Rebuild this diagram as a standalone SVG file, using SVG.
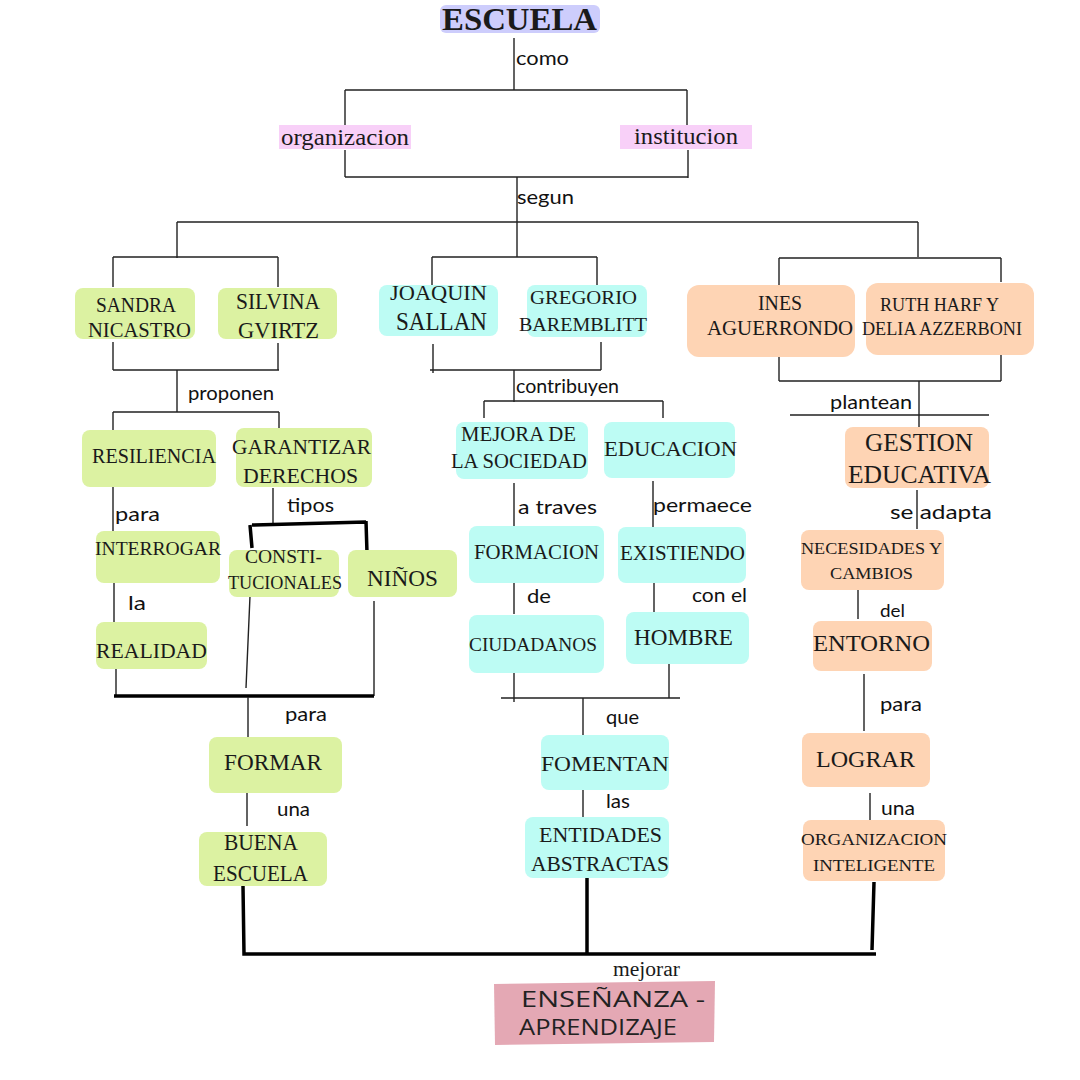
<svg xmlns="http://www.w3.org/2000/svg" width="1080" height="1080" viewBox="0 0 1080 1080">
<style>
.bg{fill:#ffffff}
.g{fill:#dcf2a2}
.c{fill:#bdfcf4}
.o{fill:#fed4b4}
.t{font-family:"Liberation Serif","DejaVu Serif",serif;fill:#1a1a1a;text-anchor:middle}
.l{font-family:Lato,"Noto Sans","DejaVu Sans",sans-serif;fill:#111;font-size:20px}
.s{font-family:"Open Sans","Noto Sans",sans-serif;font-size:22px;fill:#222}
.ln{stroke:#222;stroke-width:1.4;fill:none}
.tk{stroke:#000;stroke-width:3.5;fill:none}
</style>
<rect class="bg" x="0" y="0" width="1080" height="1080"/>

<g id="connectors">
<path class="ln" d="M514 38V90M345 90H687M345 90V125M687 90V125"/>
<path class="ln" d="M345 150V177M688 150V178M345 177H688M517 177V222M177 222H918M177 222V258M517 222V257M918 222V257"/>
<path class="ln" d="M113 257H278M113 257V287M278 257V287"/>
<path class="ln" d="M113 342V370M278 343V370M113 370H279M177 370V412M113 412H279M113 412V430M279 412V430"/>
<path class="ln" d="M113 487V531M114 577V626M116 663V696"/>
<path class="ln" d="M273 488V523"/>
<path class="tk" d="M252 525L366 522M250 525L252 548M366 521L367 553"/>
<path class="ln" d="M250 596L246 688M374 601V696"/>
<path class="tk" d="M114 696H374"/>
<path class="ln" d="M248 697V738M247 782V826"/>
<path class="tk" d="M243 886L244 954H876M587 877V954M874 882L872 950"/>
<path class="ln" d="M432 257H597M432 257V285M597 257V285"/>
<path class="ln" d="M433 344V373M601 342V370M430 370H601M514 370V402M484 401H663M484 401V418M663 401V418"/>
<path class="ln" d="M514 483V526M653 481V527M514 580V614M654 577V612M514 671V702M669 663V698M501 698H680M583 698V735M583 782V818"/>
<path class="ln" d="M779 258H1001M779 258V285M1001 258V282M779 356V381M1001 352V381M779 381H1001M919 381V427M790 415H989"/>
<path class="ln" d="M917 490V529M858 582V619M864 674V731M870 793V830"/>
</g>

<g id="labels">
<text class="l" x="516" y="65" textLength="53" lengthAdjust="spacingAndGlyphs">como</text>
<text class="l" x="517" y="204" textLength="57" lengthAdjust="spacingAndGlyphs">segun</text>
<text class="l" x="188" y="400" textLength="86" lengthAdjust="spacingAndGlyphs">proponen</text>
<text class="l" x="115" y="521" textLength="45" lengthAdjust="spacingAndGlyphs">para</text>
<text class="l" x="128" y="610" textLength="18" lengthAdjust="spacingAndGlyphs">la</text>
<text class="l" x="287" y="512" textLength="47" lengthAdjust="spacingAndGlyphs">tipos</text>
<text class="l" x="285" y="721" textLength="42" lengthAdjust="spacingAndGlyphs">para</text>
<text class="l" x="277" y="816" textLength="33" lengthAdjust="spacingAndGlyphs">una</text>
<text class="l" x="516" y="393" textLength="103" lengthAdjust="spacingAndGlyphs">contribuyen</text>
<text class="l" x="518" y="514" textLength="79" lengthAdjust="spacingAndGlyphs">a traves</text>
<text class="l" x="653" y="512" textLength="99" lengthAdjust="spacingAndGlyphs">permaece</text>
<text class="l" x="527" y="603" textLength="24" lengthAdjust="spacingAndGlyphs">de</text>
<text class="l" x="692" y="602" textLength="55" lengthAdjust="spacingAndGlyphs">con el</text>
<text class="l" x="606" y="724" textLength="33" lengthAdjust="spacingAndGlyphs">que</text>
<text class="l" x="606" y="808" textLength="24" lengthAdjust="spacingAndGlyphs">las</text>
<text class="l" x="830" y="409" textLength="82" lengthAdjust="spacingAndGlyphs">plantean</text>
<text class="l" x="890" y="519" textLength="102" lengthAdjust="spacingAndGlyphs">se adapta</text>
<text class="l" x="880" y="617" textLength="25" lengthAdjust="spacingAndGlyphs" style="font-size:18px">del</text>
<text class="l" x="880" y="711" textLength="42" lengthAdjust="spacingAndGlyphs">para</text>
<text class="l" x="881" y="815" textLength="34" lengthAdjust="spacingAndGlyphs">una</text>
<text class="t" x="646.5" y="976" textLength="67" lengthAdjust="spacingAndGlyphs" style="font-size:20px">mejorar</text>
</g>

<g id="n-escuela">
<rect x="440" y="5" width="160" height="28" rx="6" fill="#cdcdfc"/>
<text class="t" x="519.5" y="30" textLength="155" lengthAdjust="spacingAndGlyphs" style="font-size:32px;font-weight:bold">ESCUELA</text>
</g>
<g id="n-organizacion">
<rect x="279" y="125" width="132" height="24" fill="#f8d0f8"/>
<text class="t" x="345" y="145" textLength="128" lengthAdjust="spacingAndGlyphs" style="font-size:23px">organizacion</text>
</g>
<g id="n-institucion">
<rect x="620" y="125" width="132" height="24" fill="#f8d0f8"/>
<text class="t" x="686" y="144" textLength="104" lengthAdjust="spacingAndGlyphs" style="font-size:23px">institucion</text>
</g>

<g id="n-sandra"><rect class="g" x="75" y="288" width="120" height="51" rx="8"/>
<text class="t" x="136" y="312" textLength="80" lengthAdjust="spacingAndGlyphs" style="font-size:20px">SANDRA</text><text class="t" x="139.5" y="337" textLength="103" lengthAdjust="spacingAndGlyphs" style="font-size:20px">NICASTRO</text></g>
<g id="n-silvina"><rect class="g" x="218" y="288" width="119" height="51" rx="8"/>
<text class="t" x="278" y="309" textLength="84" lengthAdjust="spacingAndGlyphs" style="font-size:23px">SILVINA</text><text class="t" x="278.5" y="338" textLength="81" lengthAdjust="spacingAndGlyphs" style="font-size:23px">GVIRTZ</text></g>
<g id="n-resiliencia"><rect class="g" x="82" y="430" width="134" height="57" rx="8"/>
<text class="t" x="154" y="463" textLength="124" lengthAdjust="spacingAndGlyphs" style="font-size:21px">RESILIENCIA</text></g>
<g id="n-garantizar"><rect class="g" x="236" y="428" width="136" height="59" rx="8"/>
<text class="t" x="301.5" y="454" textLength="139" lengthAdjust="spacingAndGlyphs" style="font-size:22px">GARANTIZAR</text><text class="t" x="300.5" y="483" textLength="115" lengthAdjust="spacingAndGlyphs" style="font-size:22px">DERECHOS</text></g>
<g id="n-interrogar"><rect class="g" x="96" y="531" width="124" height="52" rx="8"/>
<text class="t" x="158" y="555" textLength="126" lengthAdjust="spacingAndGlyphs" style="font-size:19px">INTERROGAR</text></g>
<g id="n-realidad"><rect class="g" x="96" y="622" width="111" height="47" rx="8"/>
<text class="t" x="151.5" y="658" textLength="111" lengthAdjust="spacingAndGlyphs" style="font-size:22px">REALIDAD</text></g>
<g id="n-constitucionales"><rect class="g" x="229" y="550" width="110" height="47" rx="8"/>
<text class="t" x="283.5" y="563" textLength="77" lengthAdjust="spacingAndGlyphs" style="font-size:18px">CONSTI-</text><text class="t" x="285" y="589" textLength="114" lengthAdjust="spacingAndGlyphs" style="font-size:18px">TUCIONALES</text></g>
<g id="n-ninos"><rect class="g" x="348" y="550" width="109" height="47" rx="8"/>
<text class="t" x="402.5" y="586" textLength="71" lengthAdjust="spacingAndGlyphs" style="font-size:23px">NIÑOS</text></g>
<g id="n-formar"><rect class="g" x="209" y="737" width="133" height="56" rx="8"/>
<text class="t" x="273" y="770" textLength="98" lengthAdjust="spacingAndGlyphs" style="font-size:23px">FORMAR</text></g>
<g id="n-buena"><rect class="g" x="199" y="832" width="128" height="54" rx="8"/>
<text class="t" x="261" y="850" textLength="74" lengthAdjust="spacingAndGlyphs" style="font-size:23px">BUENA</text><text class="t" x="260.5" y="881" textLength="95" lengthAdjust="spacingAndGlyphs" style="font-size:23px">ESCUELA</text></g>

<g id="n-joaquin"><rect class="c" x="379" y="285" width="119" height="51" rx="8"/>
<text class="t" x="438.5" y="300" textLength="97" lengthAdjust="spacingAndGlyphs" style="font-size:20px">JOAQUIN</text><text class="t" x="441.5" y="330" textLength="91" lengthAdjust="spacingAndGlyphs" style="font-size:25px">SALLAN</text></g>
<g id="n-gregorio"><rect class="c" x="527" y="285" width="120" height="52" rx="8"/>
<text class="t" x="583.5" y="304" textLength="107" lengthAdjust="spacingAndGlyphs" style="font-size:19px">GREGORIO</text><text class="t" x="583" y="331" textLength="128" lengthAdjust="spacingAndGlyphs" style="font-size:19px">BAREMBLITT</text></g>
<g id="n-mejora"><rect class="c" x="456" y="422" width="132" height="57" rx="8"/>
<text class="t" x="518.5" y="441" textLength="115" lengthAdjust="spacingAndGlyphs" style="font-size:20px">MEJORA DE</text><text class="t" x="519" y="468" textLength="136" lengthAdjust="spacingAndGlyphs" style="font-size:20px">LA SOCIEDAD</text></g>
<g id="n-educacion"><rect class="c" x="604" y="422" width="131" height="56" rx="8"/>
<text class="t" x="670.5" y="456" textLength="133" lengthAdjust="spacingAndGlyphs" style="font-size:22px">EDUCACION</text></g>
<g id="n-formacion"><rect class="c" x="469" y="526" width="135" height="57" rx="8"/>
<text class="t" x="536.5" y="559" textLength="125" lengthAdjust="spacingAndGlyphs" style="font-size:20px">FORMACION</text></g>
<g id="n-existiendo"><rect class="c" x="618" y="527" width="128" height="56" rx="8"/>
<text class="t" x="682.5" y="560" textLength="125" lengthAdjust="spacingAndGlyphs" style="font-size:21px">EXISTIENDO</text></g>
<g id="n-ciudadanos"><rect class="c" x="469" y="615" width="135" height="58" rx="8"/>
<text class="t" x="533" y="651" textLength="128" lengthAdjust="spacingAndGlyphs" style="font-size:18px">CIUDADANOS</text></g>
<g id="n-hombre"><rect class="c" x="626" y="612" width="123" height="52" rx="8"/>
<text class="t" x="683.5" y="645" textLength="99" lengthAdjust="spacingAndGlyphs" style="font-size:23px">HOMBRE</text></g>
<g id="n-fomentan"><rect class="c" x="541" y="735" width="128" height="55" rx="8"/>
<text class="t" x="605" y="771" textLength="128" lengthAdjust="spacingAndGlyphs" style="font-size:22px">FOMENTAN</text></g>
<g id="n-entidades"><rect class="c" x="525" y="817" width="144" height="61" rx="8"/>
<text class="t" x="600.5" y="842" textLength="123" lengthAdjust="spacingAndGlyphs" style="font-size:22px">ENTIDADES</text><text class="t" x="600" y="871" textLength="138" lengthAdjust="spacingAndGlyphs" style="font-size:22px">ABSTRACTAS</text></g>

<g id="n-ines"><rect class="o" x="687" y="285" width="168" height="72" rx="12"/>
<text class="t" x="780" y="310" textLength="44" lengthAdjust="spacingAndGlyphs" style="font-size:20px">INES</text><text class="t" x="780" y="335" textLength="146" lengthAdjust="spacingAndGlyphs" style="font-size:20px">AGUERRONDO</text></g>
<g id="n-ruth"><rect class="o" x="866" y="283" width="168" height="72" rx="12"/>
<text class="t" x="939.5" y="311" textLength="119" lengthAdjust="spacingAndGlyphs" style="font-size:18px">RUTH HARF Y</text><text class="t" x="942" y="335" textLength="160" lengthAdjust="spacingAndGlyphs" style="font-size:18px">DELIA AZZERBONI</text></g>
<g id="n-gestion"><rect class="o" x="845" y="427" width="144" height="61" rx="8"/>
<text class="t" x="919" y="451" textLength="108" lengthAdjust="spacingAndGlyphs" style="font-size:25px">GESTION</text><text class="t" x="919.5" y="483" textLength="143" lengthAdjust="spacingAndGlyphs" style="font-size:25px">EDUCATIVA</text></g>
<g id="n-necesidades"><rect class="o" x="801" y="530" width="143" height="60" rx="8"/>
<text class="t" x="871.5" y="554" textLength="141" lengthAdjust="spacingAndGlyphs" style="font-size:17px">NECESIDADES Y</text><text class="t" x="871.5" y="579" textLength="83" lengthAdjust="spacingAndGlyphs" style="font-size:17px">CAMBIOS</text></g>
<g id="n-entorno"><rect class="o" x="813" y="621" width="119" height="50" rx="8"/>
<text class="t" x="871.5" y="651" textLength="117" lengthAdjust="spacingAndGlyphs" style="font-size:23px">ENTORNO</text></g>
<g id="n-lograr"><rect class="o" x="802" y="733" width="128" height="54" rx="8"/>
<text class="t" x="865.5" y="767" textLength="99" lengthAdjust="spacingAndGlyphs" style="font-size:24px">LOGRAR</text></g>
<g id="n-organizacion-inteligente"><rect class="o" x="803" y="820" width="142" height="61" rx="8"/>
<text class="t" x="874" y="845" textLength="146" lengthAdjust="spacingAndGlyphs" style="font-size:17px">ORGANIZACION</text><text class="t" x="874" y="871" textLength="122" lengthAdjust="spacingAndGlyphs" style="font-size:17px">INTELIGENTE</text></g>

<g id="n-ensenanza"><path d="M494 984L715 981L714 1042L495 1045Z" fill="#e4a8b4"/>
<text class="s" x="521" y="1007" textLength="184" lengthAdjust="spacingAndGlyphs">ENSEÑANZA -</text>
<text class="s" x="519" y="1035" textLength="158" lengthAdjust="spacingAndGlyphs">APRENDIZAJE</text></g>
</svg>
